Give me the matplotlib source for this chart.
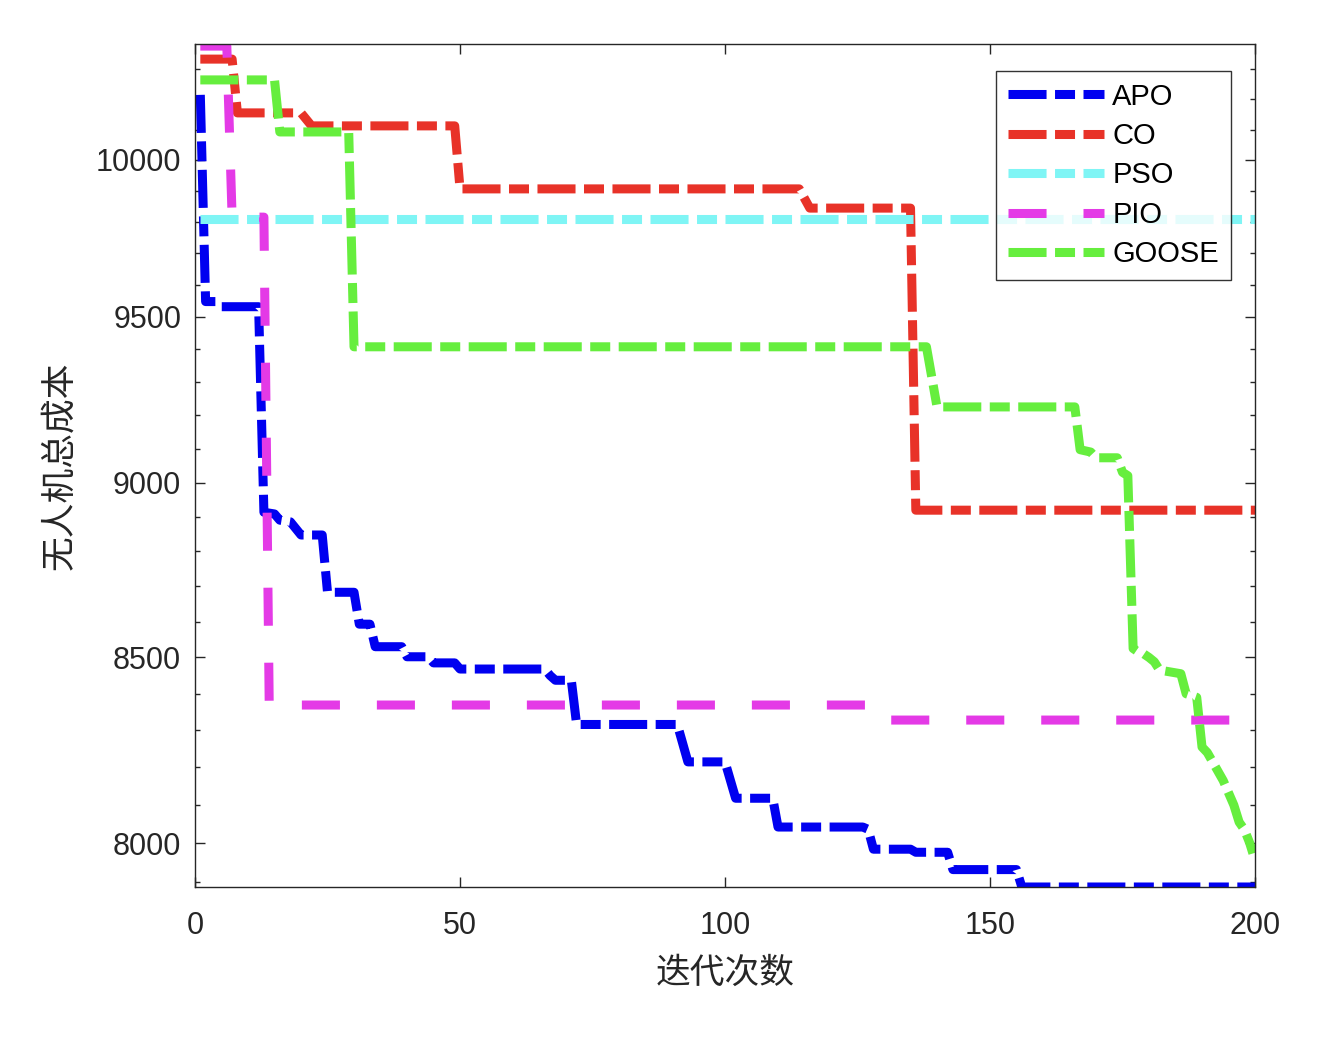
import numpy as np
import matplotlib
matplotlib.use("Agg")
import matplotlib.pyplot as plt
from matplotlib.ticker import FixedLocator, FuncFormatter, NullFormatter

# ---------------------------------------------------------------------------
# Convergence data (iteration, total cost) polyline vertices
# ---------------------------------------------------------------------------
apo_iter = [1, 2, 4, 5, 12, 13, 15, 16, 18, 20, 24, 25, 30, 31, 33, 34, 39, 40,
            44, 45, 49, 50, 66, 67, 68, 71, 72, 91, 93, 100, 102, 109, 110, 126,
            127, 128, 135, 136, 142, 143, 155, 156, 200]
apo_cost = [10215, 9548, 9548, 9532, 9532, 8913, 8908, 8890, 8885, 8847, 8847,
            8683, 8683, 8593, 8593, 8530, 8530, 8502, 8502, 8485, 8485, 8468,
            8468, 8450, 8437, 8437, 8316, 8316, 8215, 8215, 8118, 8118, 8042,
            8042, 8036, 7984, 7984, 7976, 7976, 7931, 7931, 7886, 7886]

co_iter = [1, 7, 8, 20, 22, 49, 50, 114, 116, 135, 136, 200]
co_cost = [10335, 10335, 10155, 10155, 10112, 10112, 9906, 9906, 9844, 9844,
           8919, 8919]

pso_iter = [1, 200]
pso_cost = [9810, 9810]

pio_iter = [1, 6, 7, 13, 14, 130, 131, 200]
pio_cost = [10379, 10379, 9815, 9815, 8369, 8369, 8328, 8328]

goose_iter = [1, 15, 16, 29, 30, 138, 140, 166, 167, 169, 170, 174, 175, 176,
              177, 178, 179, 180, 181, 182, 186, 187, 189, 190, 191, 193, 194,
              196, 197, 198, 199, 200]
goose_cost = [10265, 10265, 10092, 10092, 9408, 9408, 9225, 9225, 9097, 9090,
              9073, 9073, 9030, 9020, 8525, 8515, 8510, 8500, 8488, 8465, 8455,
              8400, 8390, 8255, 8240, 8190, 8165, 8100, 8055, 8035, 8000, 7955]

labels = ["APO", "CO", "PSO", "PIO", "GOOSE"]
colors = ["#0000f0", "#e83228", "#7ff5f5", "#e43ae6", "#66ee3e"]

x_ticks = [0, 50, 100, 150, 200]
y_ticks = [8000, 8500, 9000, 9500, 10000]
y_minor = [v for v in range(7900, 10400, 100) if v not in y_ticks]

# ---------------------------------------------------------------------------
plt.rcParams['font.family'] = ['Liberation Sans', 'Noto Sans CJK SC', 'DejaVu Sans']
plt.rcParams['lines.scale_dashes'] = False

TXT = "#262626"
LW = 6.5
dash_main = (0, (27.4, 6.1, 14.4, 6.1))
dash_pio = (0, (27.4, 26.6))

fig = plt.figure(figsize=(13.44, 10.46), dpi=100)
ax = fig.add_axes([0.1451, 0.152, 0.7887, 0.8059])

series = [(apo_iter, apo_cost), (co_iter, co_cost), (pso_iter, pso_cost),
          (pio_iter, pio_cost), (goose_iter, goose_cost)]
for (xs, ys), lab, col in zip(series, labels, colors):
    ls = dash_pio if lab == "PIO" else dash_main
    ax.plot(xs, ys, color=col, lw=LW, linestyle=ls, label=lab,
            dash_capstyle='butt', dash_joinstyle='round', solid_joinstyle='round')

ax.set_yscale('log')
ax.set_xlim(0, 200)
ax.set_ylim(7886, 10386)
ax.xaxis.set_major_locator(FixedLocator(x_ticks))
ax.yaxis.set_major_locator(FixedLocator(y_ticks))
ax.yaxis.set_major_formatter(FuncFormatter(lambda v, p: f"{v:.0f}"))
ax.yaxis.set_minor_locator(FixedLocator(y_minor))
ax.yaxis.set_minor_formatter(NullFormatter())

ax.tick_params(axis='both', which='major', direction='in', length=7, width=1.0,
               colors=TXT, labelsize=22, top=True, right=True)
ax.tick_params(axis='x', pad=17)
ax.tick_params(axis='y', pad=10)
ax.tick_params(axis='y', which='minor', direction='in', length=3.6, width=1.0,
               colors=TXT, left=True, right=True)
ax.tick_params(axis='x', which='minor', bottom=False, top=False)
for sp in ax.spines.values():
    sp.set_color(TXT)
    sp.set_linewidth(1.0)

ax.set_xlabel("迭代次数", fontsize=25, color=TXT, family=['Noto Sans CJK SC'], labelpad=11)
ax.set_ylabel("无人机总成本", fontsize=25, color=TXT, family=['Noto Sans CJK SC'], labelpad=13)

leg = ax.legend(loc='upper right', bbox_to_anchor=(0.977, 0.968), borderaxespad=0,
                fontsize=21, frameon=True, fancybox=False, edgecolor='black',
                handlelength=3.3, handletextpad=0.28, labelspacing=0.39,
                borderpad=0.4)
leg.get_frame().set_linewidth(1.0)

fig.savefig("out.png", dpi=100)
